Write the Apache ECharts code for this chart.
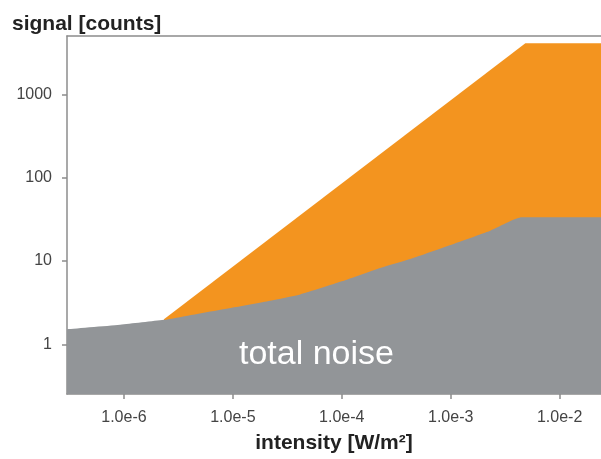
<!DOCTYPE html>
<html>
<head>
<meta charset="utf-8">
<script src="https://cdn.jsdelivr.net/npm/echarts@6/dist/echarts.min.js"></script>
<style>
html,body{margin:0;padding:0;background:#fff;}
#c{width:601px;height:459px;}
</style>
</head>
<body>
<div id="c"></div>
<script>
// intensity [W/m²] and signal [counts]
const signalX = [2.33e-6, 4.85e-3, 0.024];
const signalY = [2.0, 4095, 4095];
const noiseX = [3e-7, 9.2e-7, 2.33e-6, 3.27e-6, 1e-5, 2.2e-5, 4.15e-5, 1e-4, 2.25e-4, 4.25e-4, 1e-3, 2.31e-3, 4.55e-3, 0.024];
const noiseY = [1.52, 1.72, 1.97, 2.12, 2.76, 3.34, 3.97, 5.7, 8.26, 10.6, 15.6, 23.1, 33.4, 33.4];
const xTicks = [1e-6, 1e-5, 1e-4, 1e-3, 1e-2];
const yTicks = [1, 10, 100, 1000];
const xMin = 3e-7, xMax = 0.024, yMin = 0.254, yMax = 5000;

const pairs = (xs, ys) => xs.map((x, i) => [x, ys[i]]);
const axisCol = '#8c8c8c';
const labelCol = '#444';
const font = '"Liberation Sans", Arial, Helvetica, sans-serif';

const chart = echarts.init(document.getElementById('c'), null, {renderer: 'canvas'});
chart.setOption({
  animation: false,
  backgroundColor: '#fff',
  title: {
    text: 'signal [counts]',
    left: 7, top: 9,
    textStyle: {fontFamily: font, fontWeight: 'bold', fontSize: 21, color: '#222'}
  },
  grid: {left: 67, right: 0, top: 36, bottom: 62, containLabel: false},
  xAxis: [{
    type: 'log', min: xMin, max: xMax, logBase: 10,
    name: 'intensity [W/m²]', nameLocation: 'middle', nameGap: 39,
    nameTextStyle: {fontFamily: font, fontWeight: 'bold', fontSize: 21, color: '#222'},
    axisLine: {show: true, lineStyle: {color: axisCol, width: 1.5}},
    axisTick: {show: true, length: 5, lineStyle: {color: axisCol, width: 1.5}, customValues: xTicks},
    axisLabel: {fontFamily: font, fontSize: 16, color: labelCol, margin: 16, customValues: xTicks,
      formatter: v => Number(v).toExponential(1)},
    splitLine: {show: false}, minorTick: {show: false}
  }, {
    type: 'log', min: xMin, max: xMax, position: 'top',
    axisLine: {show: true, onZero: false, lineStyle: {color: axisCol, width: 1.5}},
    axisTick: {show: false}, axisLabel: {show: false}, splitLine: {show: false}
  }],
  yAxis: {
    type: 'log', min: yMin, max: yMax, logBase: 10,
    axisLine: {show: true, lineStyle: {color: axisCol, width: 1.5}},
    axisTick: {show: true, length: 5, lineStyle: {color: axisCol, width: 1.5}, customValues: yTicks},
    axisLabel: {fontFamily: font, fontSize: 16, color: labelCol, margin: 15, customValues: yTicks,
      formatter: v => String(Math.round(v))},
    splitLine: {show: false}
  },
  series: [{
    name: 'signal', type: 'line', xAxisIndex: 0,
    data: pairs(signalX, signalY),
    symbol: 'none', lineStyle: {width: 0},
    areaStyle: {color: '#F3941F', opacity: 1, origin: 'start'},
    z: 1
  }, {
    name: 'total noise', type: 'line', xAxisIndex: 0,
    data: pairs(noiseX, noiseY),
    symbol: 'none', smooth: 0.2, lineStyle: {width: 0},
    areaStyle: {color: '#929598', opacity: 1, origin: 'start'},
    z: 2
  }],
  graphic: [{
    type: 'text', left: 239, top: 338, z: 100,
    style: {text: 'total noise', fill: '#fff', font: '34px "Liberation Sans", Arial, sans-serif'}
  }]
});
</script>
</body>
</html>
